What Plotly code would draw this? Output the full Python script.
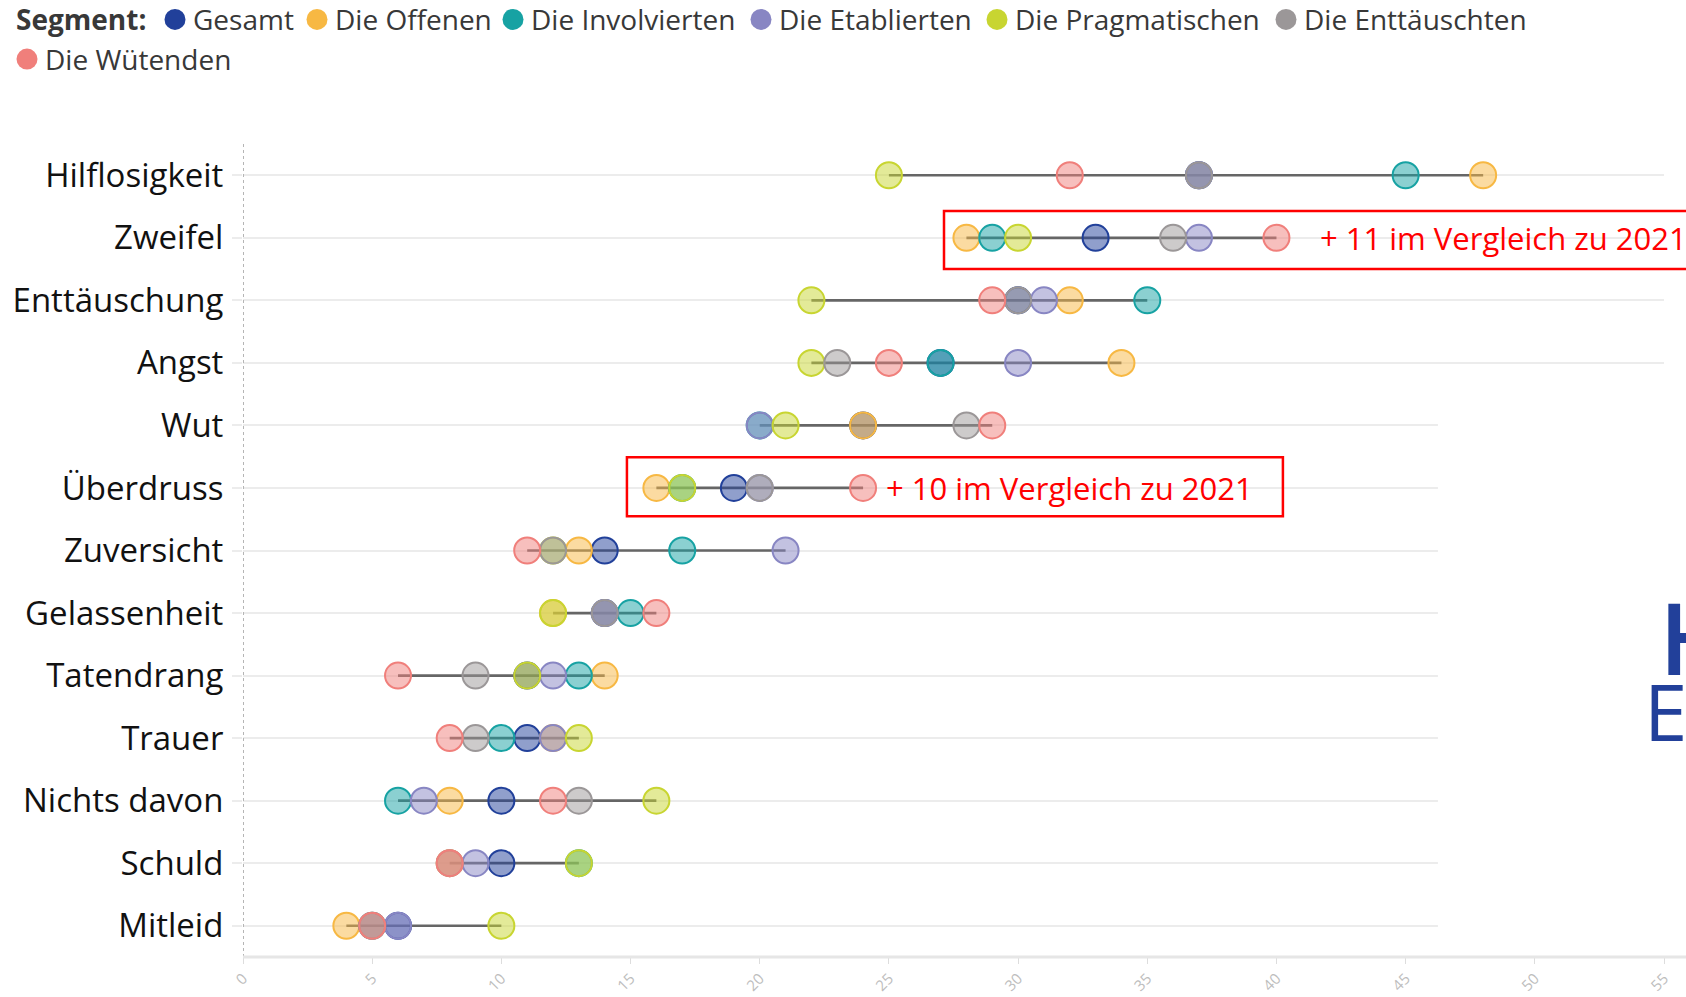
import plotly.graph_objects as go

# ---------------- data ----------------
categories = ["Hilflosigkeit", "Zweifel", "Enttäuschung", "Angst", "Wut", "Überdruss",
              "Zuversicht", "Gelassenheit", "Tatendrang", "Trauer", "Nichts davon",
              "Schuld", "Mitleid"]

segments = ["Gesamt", "Die Offenen", "Die Involvierten", "Die Etablierten",
            "Die Pragmatischen", "Die Enttäuschten", "Die Wütenden"]

gesamt        = [37, 33, 30, 27, 24, 19, 14, 14, 11, 11, 10, 10, 6]
offenen       = [48, 28, 32, 34, 24, 16, 13, 12, 14, 12,  8,  8, 4]
involvierten  = [45, 29, 35, 27, 20, 17, 17, 15, 13, 10,  6, 13, 5]
etablierten   = [37, 37, 31, 30, 20, 20, 21, 14, 12, 12,  7,  9, 6]
pragmatischen = [25, 30, 22, 22, 21, 17, 12, 12, 11, 13, 16, 13, 10]
enttaeuschten = [37, 36, 30, 23, 28, 20, 12, 14,  9,  9, 13,  8, 5]
wuetenden     = [32, 40, 29, 25, 29, 24, 11, 16,  6,  8, 12,  8, 5]

series = [gesamt, offenen, involvierten, etablierten, pragmatischen, enttaeuschten, wuetenden]

colors = ["#21409a", "#f7b843", "#17a2a3", "#8886c3", "#c8d531", "#9b9798", "#f07f7b"]

x_ticks = [0, 5, 10, 15, 20, 25, 30, 35, 40, 45, 50, 55]

callouts = [("Zweifel", "+ 11 im Vergleich zu 2021"),
            ("Überdruss", "+ 10 im Vergleich zu 2021")]

FONT = "Open Sans"

# pixel geometry of the figure
W, H = 1686, 997
ML, MR, MT, MB = 243, 22, 144, 40
PW, PH = W - ML - MR, H - MT - MB


def px_x(px):
    return (px - ML) / PW


def px_y(py):
    return (H - MB - py) / PH


def rgba(hex_color, a):
    h = hex_color.lstrip("#")
    r, g, b = int(h[0:2], 16), int(h[2:4], 16), int(h[4:6], 16)
    return f"rgba({r},{g},{b},{a})"


fig = go.Figure()

# connecting range lines (min to max per row)
lx, ly = [], []
for i, cat in enumerate(categories):
    vals = [s[i] for s in series]
    lx += [min(vals), max(vals), None]
    ly += [cat, cat, None]
fig.add_trace(go.Scatter(x=lx, y=ly, mode="lines",
                         line=dict(color="#666666", width=2.7),
                         hoverinfo="skip", showlegend=False))

# segment markers
for name, vals, col in zip(segments, series, colors):
    fig.add_trace(go.Scatter(
        x=vals, y=categories, mode="markers", name=name,
        marker=dict(size=26, color=rgba(col, 0.5), line=dict(color=col, width=2)),
        showlegend=False,
    ))

annotations = []
shapes = []

# ---------------- legend (dots + labels) ----------------
legend_font = dict(family=FONT, size=28, color="#383838")
row_y = [px_y(19.4), px_y(59.1)]
legend_rows = [0, 0, 0, 0, 0, 0, 1]
legend_dot_px = [175, 317, 513, 761, 997, 1286, 27]

annotations.append(dict(text="<b>Segment:</b>", xref="paper", yref="paper",
                        x=px_x(14), y=row_y[0], xanchor="left", yanchor="middle",
                        showarrow=False, font=legend_font))
for name, col, row, dx in zip(segments, colors, legend_rows, legend_dot_px):
    shapes.append(dict(type="circle", xref="paper", yref="paper",
                       xsizemode="pixel", ysizemode="pixel",
                       xanchor=px_x(dx), yanchor=row_y[row],
                       x0=-10.5, x1=10.5, y0=-10.5, y1=10.5,
                       fillcolor=col, line=dict(width=0), layer="above"))
    annotations.append(dict(text=name, xref="paper", yref="paper",
                            x=px_x(dx + 16), y=row_y[row], xanchor="left",
                            yanchor="middle", showarrow=False, font=legend_font))

# callout texts
callout_x = [41.6, 24.8]
for (cat, txt), xx in zip(callouts, callout_x):
    annotations.append(dict(text=txt, x=xx, y=cat, xref="x", yref="y",
                            xanchor="left", yanchor="middle", showarrow=False,
                            font=dict(family=FONT, size=31, color="#ff0000")))

# cut-off logo letters on the right edge
annotations.append(dict(text="H", xref="paper", yref="paper", x=px_x(1657), y=px_y(636),
                        xanchor="left", yanchor="middle", showarrow=False,
                        font=dict(family=FONT, size=100, color="#22409a", weight=600)))
annotations.append(dict(text="E", xref="paper", yref="paper", x=px_x(1642), y=px_y(711),
                        xanchor="left", yanchor="middle", showarrow=False,
                        font=dict(family=FONT, size=78, color="#22409a")))

shapes += [
    # dotted zero line
    dict(type="line", xref="x", yref="paper", x0=0, x1=0, y0=0, y1=1,
         line=dict(color="#b5b5b5", width=2, dash="dot"), layer="above"),
    # bottom base line (runs to the right edge)
    dict(type="line", xref="paper", yref="paper", x0=0, x1=px_x(W + 5), y0=0, y1=0,
         line=dict(color="#e6e6e6", width=3), layer="above"),
    # white overlay on the lower-right gridlines (as in reference)
    dict(type="rect", xref="x", yref="y", x0=46.25, x1=57, y0=3.5, y1=12.4,
         fillcolor="white", line=dict(width=0), layer="between"),
    # red callout boxes
    dict(type="rect", xref="paper", yref="y", x0=px_x(944), x1=px_x(W + 20), y0=0.572, y1=1.5,
         line=dict(color="#ff0000", width=2.5), fillcolor="rgba(0,0,0,0)", layer="above"),
    dict(type="rect", xref="x", yref="y", x0=14.86, x1=40.25, y0=4.508, y1=5.452,
         line=dict(color="#ff0000", width=2.5), fillcolor="rgba(0,0,0,0)", layer="above"),
]

fig.update_layout(
    width=W, height=H,
    margin=dict(l=ML, r=MR, t=MT, b=MB, autoexpand=False),
    paper_bgcolor="white", plot_bgcolor="white",
    font=dict(family=FONT, color="#111111"),
    showlegend=False,
    annotations=annotations,
    shapes=shapes,
    xaxis=dict(range=[0, 55], tickvals=x_ticks, ticktext=[str(v) for v in x_ticks],
               tickangle=-45, tickfont=dict(family=FONT, size=15, color="#bdbdbd"),
               showgrid=False, zeroline=False, showline=False,
               ticks="outside", ticklen=6, tickcolor="#dddddd",
               tickwidth=1, automargin=False),
    yaxis=dict(type="category", categoryorder="array", categoryarray=categories,
               range=[12.5, -0.5], showgrid=True, gridcolor="#ececec", gridwidth=2,
               zeroline=False, showline=False, ticks="outside", ticklen=10,
               tickcolor="#ececec", tickwidth=2, ticklabelstandoff=2,
               tickfont=dict(family=FONT, size=33, color="#111111"),
               automargin=False),
)

fig.write_html("out.html", config={"displayModeBar": False},
               post_script="document.body.style.margin='0';document.body.style.overflow='hidden';")
